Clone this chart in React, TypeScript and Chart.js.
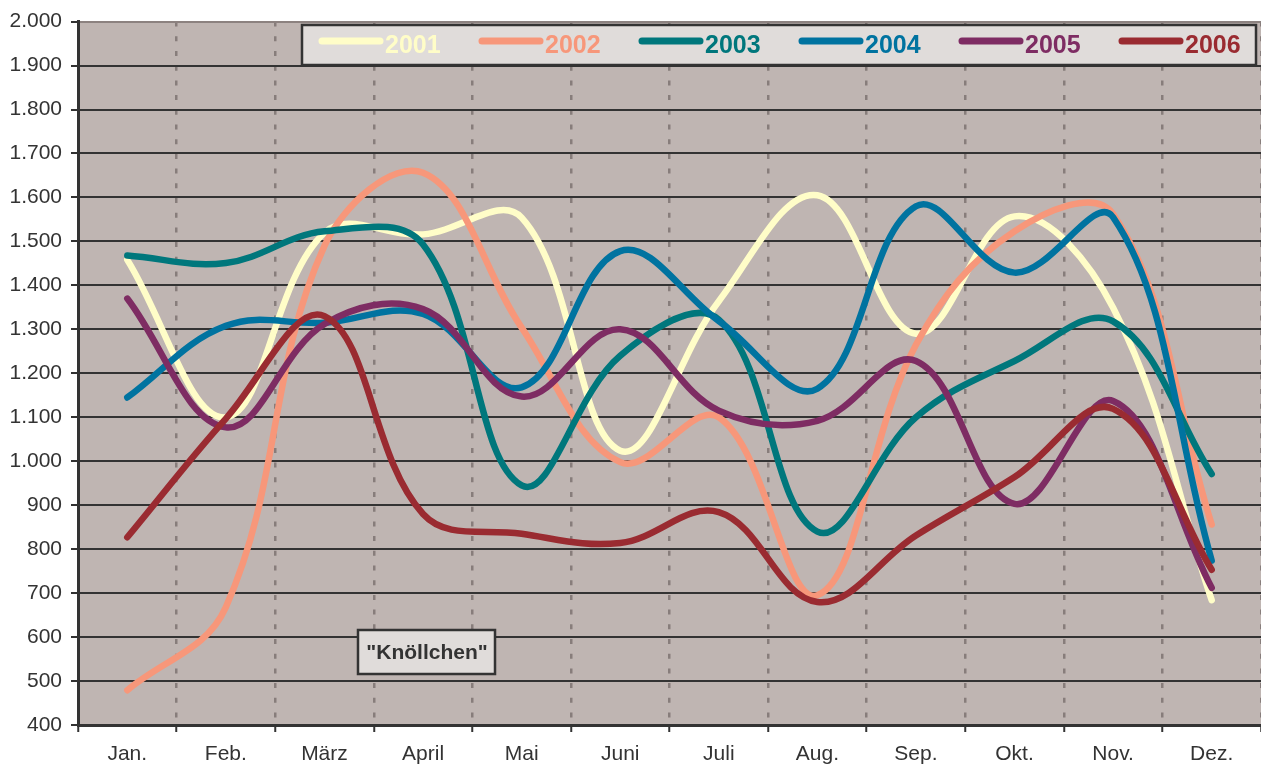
import React, { useEffect, useRef } from "react";
import { Chart, registerables } from "chart.js";

Chart.register(...registerables);

const months = ["Jan.", "Feb.", "März", "April", "Mai", "Juni", "Juli", "Aug.", "Sep.", "Okt.", "Nov.", "Dez."];
const years = ["2001", "2002", "2003", "2004", "2005", "2006"];

const v2001 = [1458, 1100, 1520, 1516, 1554, 1024, 1364, 1605, 1290, 1557, 1349, 684];
const v2002 = [479, 668, 1490, 1656, 1304, 998, 1100, 695, 1265, 1523, 1562, 856];
const v2003 = [1468, 1451, 1523, 1493, 945, 1240, 1322, 840, 1100, 1228, 1318, 971];
const v2004 = [1145, 1308, 1315, 1335, 1168, 1478, 1319, 1165, 1580, 1429, 1555, 774];
const v2005 = [1370, 1077, 1312, 1346, 1147, 1300, 1115, 1092, 1228, 903, 1137, 712];
const v2006 = [827, 1097, 1330, 880, 835, 814, 884, 680, 831, 964, 1119, 753];

const seriesValues = [v2001, v2002, v2003, v2004, v2005, v2006];
const colors = ["#FFFDC8", "#F7977A", "#00777C", "#0073A0", "#7E2C63", "#9A2B31"];

const annotationText = '"Knöllchen"';

const FONT = "'Liberation Sans', Arial, Helvetica, sans-serif";

function fmt(v: number): string {
  if (v >= 1000) {
    const t = Math.floor(v / 1000);
    const r = String(v % 1000).padStart(3, "0");
    return `${t}.${r}`;
  }
  return String(v);
}

export default function App() {
  const ref = useRef<HTMLCanvasElement>(null);

  useEffect(() => {
    if (!ref.current) return;

    const bgPlugin = {
      id: "plotBg",
      beforeDraw(chart: any) {
        const { ctx, chartArea: a } = chart;
        ctx.save();
        ctx.fillStyle = "#BFB5B2";
        ctx.fillRect(a.left, a.top, a.right - a.left, a.bottom - a.top);
        ctx.restore();
      },
    };

    const overlayPlugin = {
      id: "overlay",
      afterDraw(chart: any) {
        const ctx = chart.ctx as CanvasRenderingContext2D;
        ctx.save();
        // legend box
        ctx.fillStyle = "#E0DCDA";
        ctx.fillRect(302, 25, 954, 40);
        ctx.strokeStyle = "#333333";
        ctx.lineWidth = 2.5;
        ctx.strokeRect(302, 25, 954, 40);
        years.forEach((y, i) => {
          const x0 = 322 + 160 * i;
          ctx.strokeStyle = colors[i];
          ctx.lineWidth = 7;
          ctx.lineCap = "round";
          ctx.beginPath();
          ctx.moveTo(x0, 41);
          ctx.lineTo(x0 + 58, 41);
          ctx.stroke();
          ctx.fillStyle = colors[i];
          ctx.font = `bold 25px ${FONT}`;
          ctx.textAlign = "left";
          ctx.textBaseline = "alphabetic";
          ctx.fillText(y, x0 + 63, 53);
        });
        // annotation
        ctx.fillStyle = "#E0DCDA";
        ctx.fillRect(358, 630, 137, 44);
        ctx.strokeStyle = "#333333";
        ctx.lineWidth = 2.5;
        ctx.strokeRect(358, 630, 137, 44);
        ctx.fillStyle = "#333333";
        ctx.font = `bold 21px ${FONT}`;
        ctx.textAlign = "center";
        ctx.textBaseline = "alphabetic";
        ctx.fillText(annotationText, 427, 659);
        ctx.restore();
      },
    };

    const chart = new Chart(ref.current, {
      type: "line",
      data: {
        labels: months,
        datasets: years.map((y, i) => ({
          label: y,
          data: seriesValues[i],
          borderColor: colors[i],
          backgroundColor: colors[i],
          borderWidth: 6.5,
          pointRadius: 0,
          tension: 0.38,
          borderCapStyle: "round",
          borderJoinStyle: "round",
          fill: false,
          order: years.length - i,
        })),
      },
      options: {
        animation: false,
        responsive: false,
        devicePixelRatio: 1,
        layout: { padding: { top: 20, left: 0, right: 0, bottom: 0 } },
        plugins: {
          legend: { display: false },
          tooltip: { enabled: false },
          title: { display: false },
        },
        scales: {
          x: {
            type: "category",
            offset: true,
            grid: {
              offset: true,
              color: "#877D7B",
              lineWidth: 2.5,
              tickColor: "#333333",
              tickWidth: 2,
              tickLength: 7,
              tickBorderDash: [],
            },
            border: { display: true, color: "#333333", width: 3, dash: [5, 9.7] },
            ticks: {
              color: "#333333",
              font: { family: FONT, size: 21 },
              padding: 10,
              maxRotation: 0,
              autoSkip: false,
            },
            afterFit(scale: any) {
              scale.height = 42;
            },
          },
          y: {
            min: 400,
            max: 2000,
            grid: {
              color: (c: any) => (c.tick && c.tick.value === 2000 ? "#8C8280" : "#333333"),
              lineWidth: 2,
              tickColor: "#333333",
              tickLength: 7,
            },
            border: { display: true, color: "#333333", width: 3 },
            ticks: {
              stepSize: 100,
              color: "#333333",
              font: { family: FONT, size: 21 },
              padding: 9,
              callback: (v: any) => fmt(Number(v)),
            },
            afterFit(scale: any) {
              scale.width = 78;
            },
          },
        },
      } as any,
      plugins: [bgPlugin, overlayPlugin],
    });

    return () => chart.destroy();
  }, []);

  return (
    <div style={{ position: "fixed", left: 0, top: 0, width: 1261, height: 767, background: "#ffffff" }}>
      <canvas ref={ref} width={1261} height={767} style={{ display: "block", width: 1261, height: 767 }} />
    </div>
  );
}
